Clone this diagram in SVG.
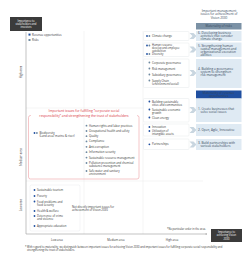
<svg xmlns="http://www.w3.org/2000/svg" width="252" height="262" viewBox="0 0 252 262">
<defs>
<style>
text{font-family:"Open Sans","Noto Sans","Liberation Sans",sans-serif;fill:#333}
.t{font-size:2.8px}
.s{font-size:2.6px}
.w{fill:#fff}
.c{text-anchor:middle}
.r{font-size:3.3px;fill:#d8323c;text-anchor:middle}
.m{font-size:3.1px;fill:#34465a}
.grid{stroke:#e6e6e6;stroke-width:0.4;fill:none}
.axis{stroke:#9a9a9a;stroke-width:0.6;fill:none}
.lb{fill:#fff;stroke:#dde2e7;stroke-width:0.4}
.rb{fill:#dfeaf3}
.chev{fill:#c9d6e0}
.db{fill:#1f4fa0}
.gb{fill:#6e89a0}
</style>
<marker id="ah" viewBox="0 0 6 6" refX="5" refY="3" markerWidth="4" markerHeight="4" orient="auto"><path d="M0,0 L6,3 L0,6" fill="none" stroke="#9a9a9a" stroke-width="1"/></marker>
<path id="chv" d="M0,-3 L4,-3 L7,0 L4,3 L0,3 L3,0 Z"/>
</defs>
<rect width="252" height="262" fill="#fff"/>

<g id="grid">
<line class="grid" x1="84" y1="31" x2="84" y2="234"/>
<line class="grid" x1="143" y1="31" x2="143" y2="234"/>
<line class="grid" x1="26" y1="108" x2="203" y2="108"/>
<line class="grid" x1="26" y1="181" x2="203" y2="181"/>
</g>

<g id="connectors">
<line class="axis" x1="26" y1="234" x2="26" y2="32"/>
<line class="axis" x1="26" y1="234" x2="207" y2="234" marker-end="url(#ah)"/>
<use href="#chv" class="chev" x="189.5" y="36"/>
<use href="#chv" class="chev" x="189.5" y="49.5"/>
<use href="#chv" class="chev" x="189.5" y="73"/>
<use href="#chv" class="chev" x="189.5" y="110"/>
<use href="#chv" class="chev" x="189.5" y="130"/>
<use href="#chv" class="chev" x="189.5" y="144.5"/>
</g>

<g id="y-axis-title">
<rect x="10" y="17" width="32" height="14" fill="#3b3b3b"/>
<text class="s w c" x="26" y="21.6">Importance to</text>
<text class="s w c" x="26" y="25">stakeholders and</text>
<text class="s w c" x="26" y="28.4">investors</text>
</g>

<g id="x-axis-title">
<rect x="211" y="229" width="31" height="13" fill="#3b3b3b"/>
<text class="s w c" x="226.5" y="233">Importance to</text>
<text class="s w c" x="226.5" y="236.4">achieving Vision</text>
<text class="s w c" x="226.5" y="239.8">2030</text>
</g>

<g id="axis-labels">
<text class="t c" transform="translate(22,72) rotate(-90)">High area</text>
<text class="t c" transform="translate(22,157) rotate(-90)">Medium area</text>
<text class="t c" transform="translate(22,205) rotate(-90)">Low area</text>
<text class="t c" x="57" y="241">Low area</text>
<text class="t c" x="116" y="241">Medium area</text>
<text class="t c" x="172" y="241">High area</text>
<text class="s" x="206" y="230" text-anchor="end">*No particular order in the area.</text>
</g>

<g id="legend">
<rect class="db" x="28.5" y="33.6" width="2" height="2"/>
<text class="t" x="32" y="35.5">Revenue opportunities</text>
<rect class="gb" x="28.5" y="39" width="2" height="2"/>
<text class="t" x="32" y="40.9">Risks</text>
</g>

<g id="header">
<text class="m c" x="219" y="11.5">Important management</text>
<text class="m c" x="219" y="15.3">issues for achievement of</text>
<text class="m c" x="219" y="19.1">Vision 2030</text>
</g>

<g id="risk-header">
<rect x="196" y="23" width="45.5" height="6.5" fill="#7b91a5"/>
<text class="m w c" x="218.7" y="27.4">Materiality of risks</text>
</g>

<g id="risk1">
<rect class="lb" x="143.5" y="31.5" width="45.5" height="9" rx="1"/>
<circle class="db" cx="147" cy="36" r="0.9"/>
<circle class="gb" cx="149.4" cy="36" r="0.9"/>
<text class="t" x="152" y="37">Climate change</text>
<rect class="rb" x="196" y="31" width="45.5" height="10"/>
<text class="m" x="198" y="34.2">6. Developing business</text>
<text class="m" x="200.5" y="37.3">activities that consider</text>
<text class="m" x="200.5" y="40.4">climate change</text>
</g>

<g id="risk2">
<rect class="lb" x="143.5" y="43" width="45.5" height="13.5" rx="1"/>
<circle class="db" cx="147" cy="45.5" r="0.9"/>
<circle class="gb" cx="149.4" cy="45.5" r="0.9"/>
<text class="s" x="152" y="46.3">Human resource</text>
<text class="s" x="152" y="49">develop and employee</text>
<text class="s" x="152" y="51.7">satisfaction</text>
<circle class="db" cx="147" cy="54" r="0.9"/>
<circle class="gb" cx="149.4" cy="54" r="0.9"/>
<text class="t" x="152" y="55">Diversity</text>
<rect class="rb" x="196" y="42.5" width="45.5" height="14.5"/>
<text class="m" x="198" y="47">5. Strengthening human</text>
<text class="m" x="200.5" y="50.1">capital management and</text>
<text class="m" x="200.5" y="53.2">organizational execution</text>
<text class="m" x="200.5" y="56.3">abilities</text>
</g>

<g id="risk3">
<rect class="lb" x="143.5" y="59" width="45.5" height="28.5" rx="1"/>
<circle class="gb" cx="149.4" cy="62.5" r="0.9"/>
<text class="t" x="152" y="63.5">Corporate governance</text>
<circle class="gb" cx="149.4" cy="68.5" r="0.9"/>
<text class="t" x="152" y="69.5">Risk management</text>
<circle class="gb" cx="149.4" cy="74.5" r="0.9"/>
<text class="t" x="152" y="75.5">Subsidiary governance</text>
<circle class="gb" cx="149.4" cy="80.5" r="0.9"/>
<text class="t" x="152" y="81.5">Supply Chain</text>
<text class="t" x="152" y="84.6">(environment/social)</text>
<rect class="rb" x="196" y="59" width="45.5" height="29"/>
<text class="m" x="198" y="70">4. Building a governance</text>
<text class="m" x="200.5" y="73.1">system to strengthen</text>
<text class="m" x="200.5" y="76.2">risk management</text>
</g>

<g id="revenue-header">
<rect x="196" y="90.5" width="45.5" height="8" fill="#1f4fa0"/>
<text class="m w c" x="218.7" y="94">Materiality of revenue</text>
<text class="m w c" x="218.7" y="97.3">opportunities</text>
</g>

<g id="rev1">
<rect class="lb" x="143.5" y="98.5" width="45.5" height="23.5" rx="1"/>
<circle class="db" cx="149.4" cy="101.5" r="0.9"/>
<text class="t" x="152" y="102.5">Building sustainable</text>
<text class="t" x="152" y="105.6">cities and communities</text>
<circle class="db" cx="149.4" cy="109.5" r="0.9"/>
<text class="t" x="152" y="110.5">Sustainable economic</text>
<text class="t" x="152" y="113.6">growth</text>
<circle class="db" cx="149.4" cy="117.5" r="0.9"/>
<text class="t" x="152" y="118.5">Clean energy</text>
<rect class="rb" x="196" y="98.5" width="45.5" height="23.5"/>
<text class="m" x="198" y="109.5">1. Create businesses that</text>
<text class="m" x="200.5" y="112.6">solve social issues</text>
</g>

<g id="rev2">
<rect class="lb" x="143.5" y="124" width="45.5" height="12" rx="1"/>
<circle class="db" cx="149.4" cy="127" r="0.9"/>
<text class="t" x="152" y="128">Innovation</text>
<circle class="db" cx="149.4" cy="131" r="0.9"/>
<text class="t" x="152" y="132">Utilization of</text>
<text class="t" x="152" y="135">intangible assets</text>
<rect class="rb" x="196" y="124" width="45.5" height="12"/>
<text class="m" x="198" y="131">2. Open, Agile, Innovative</text>
</g>

<g id="rev3">
<rect class="lb" x="143.5" y="139" width="45.5" height="10.5" rx="1"/>
<circle class="db" cx="149.4" cy="144.3" r="0.9"/>
<text class="t" x="152" y="145.3">Partnerships</text>
<rect class="rb" x="196" y="139" width="45.5" height="11"/>
<text class="m" x="198" y="143.8">3. Build partnerships with</text>
<text class="m" x="200.5" y="146.9">various stakeholders</text>
</g>

<g id="csr">
<rect x="28.5" y="115.5" width="110.5" height="63.5" rx="2" fill="none" stroke="#ea8d93" stroke-width="0.5"/>
<rect x="31" y="113.5" width="106" height="4" fill="#fff"/>
<text class="r" x="84" y="112">Important issues for fulfilling “corporate social</text>
<text class="r" x="84" y="116.6">responsibility” and strengthening the trust of stakeholders</text>
<circle class="db" cx="34.5" cy="133" r="0.9"/>
<circle class="gb" cx="36.9" cy="133" r="0.9"/>
<text class="t" x="39.5" y="134">Biodiversity</text>
<text class="t" x="39.5" y="137.1">(Land area/ marine &amp; river)</text>
<circle class="gb" cx="86.5" cy="125.7" r="0.9"/>
<text class="t" x="89" y="126.7">Human rights and labor practices</text>
<circle class="gb" cx="86.5" cy="131" r="0.9"/>
<text class="t" x="89" y="132">Occupational health and safety</text>
<circle class="gb" cx="86.5" cy="136.2" r="0.9"/>
<text class="t" x="89" y="137.2">Quality</text>
<circle class="gb" cx="86.5" cy="141.4" r="0.9"/>
<text class="t" x="89" y="142.4">Compliance</text>
<circle class="gb" cx="86.5" cy="146.8" r="0.9"/>
<text class="t" x="89" y="147.8">Anti-corruption</text>
<circle class="gb" cx="86.5" cy="152.2" r="0.9"/>
<text class="t" x="89" y="153.2">Information security</text>
<circle class="gb" cx="86.5" cy="157.6" r="0.9"/>
<text class="t" x="89" y="158.6">Sustainable resource management</text>
<circle class="gb" cx="86.5" cy="163" r="0.9"/>
<text class="t" x="89" y="164">Pollution prevention and chemical</text>
<text class="t" x="89" y="167">substance management</text>
<circle class="gb" cx="86.5" cy="171" r="0.9"/>
<text class="t" x="89" y="172">Safe water and sanitary</text>
<text class="t" x="89" y="175">environment</text>
</g>

<g id="low">
<rect x="30" y="185" width="50" height="46" rx="1.5" fill="none" stroke="#e3e6ea" stroke-width="0.4"/>
<circle class="db" cx="34.5" cy="190" r="0.9"/>
<text class="t" x="37" y="191">Sustainable tourism</text>
<circle class="db" cx="34.5" cy="196" r="0.9"/>
<text class="t" x="37" y="197">Poverty</text>
<circle class="db" cx="34.5" cy="201.5" r="0.9"/>
<text class="t" x="37" y="202.5">Food problems and</text>
<text class="t" x="37" y="205.5">food security</text>
<circle class="db" cx="34.5" cy="211" r="0.9"/>
<text class="t" x="37" y="212">Health &amp; welfare</text>
<circle class="db" cx="34.5" cy="216" r="0.9"/>
<text class="t" x="37" y="217">Deterrence of crime</text>
<text class="t" x="37" y="220">and violence</text>
<circle class="db" cx="34.5" cy="226" r="0.9"/>
<text class="t" x="37" y="227">Appropriate education</text>
<text class="t" x="72" y="208">Not directly important issues for</text>
<text class="t" x="72" y="211.4">achievement of Vision 2030</text>
</g>

<g id="footnote">
<text class="s" x="25" y="247.5">* With regard to materiality, we distinguish between important issues for achieving Vision 2030 and important issues for fulfilling corporate social responsibility and</text>
<text class="s" x="27" y="250.8">strengthening the trust of stakeholders.</text>
</g>
</svg>
